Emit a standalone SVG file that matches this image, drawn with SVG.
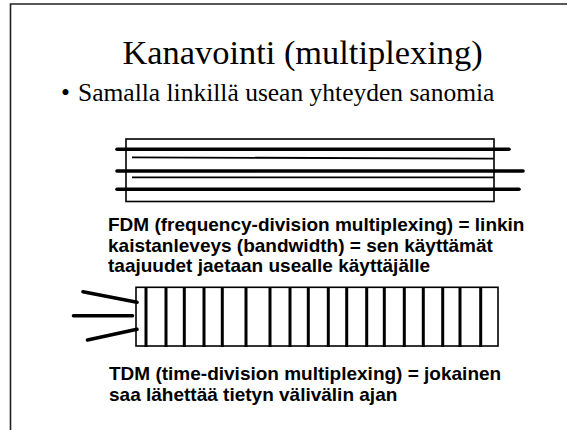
<svg xmlns="http://www.w3.org/2000/svg" width="578" height="430" viewBox="0 0 578 430">
<style>
.title{font-family:"Liberation Serif","Times New Roman",serif;font-size:34.4px;fill:#000}
.bullet{font-family:"Liberation Serif","Times New Roman",serif;font-size:25.5px;fill:#000}
.lbl{font-family:"Liberation Sans",Arial,sans-serif;font-size:19px;font-weight:bold;fill:#000}
.box{fill:#fff;stroke:#000;stroke-width:1.6}
.thick{stroke:#000;stroke-width:3.6;stroke-linecap:round;fill:none}
.thin{stroke:#000;stroke-width:1.8;fill:none}
.slot{stroke:#000;stroke-width:3;fill:none}
</style>
<rect width="578" height="430" fill="#fff"/>
<path d="M567,4 H10.5 V430" fill="none" stroke="#222" stroke-width="1.6"/>
<g id="title"><text class="title" x="122.5" y="63.5">Kanavointi (multiplexing)</text></g>
<g id="bullet"><text class="bullet" x="61" y="100.5">•</text><text class="bullet" x="78" y="100.5">Samalla linkillä usean yhteyden sanomia</text></g>
<g id="fdm">
<rect class="box" x="126" y="139" width="368" height="62.5"/>
<line class="thick" x1="117" y1="149.3" x2="509" y2="149.3"/>
<line class="thick" x1="117" y1="171" x2="523" y2="171"/>
<line class="thick" x1="117" y1="189.3" x2="519" y2="189.3"/>
<line class="thin" x1="132" y1="157.3" x2="494" y2="158.7"/>
<line class="thin" x1="132" y1="177.3" x2="494" y2="177.3"/>
</g>
<g id="fdm-text">
<text class="lbl" x="108" y="231">FDM (frequency-division multiplexing) = linkin</text>
<text class="lbl" x="108" y="251.5">kaistanleveys (bandwidth) = sen käyttämät</text>
<text class="lbl" x="108" y="272">taajuudet jaetaan usealle käyttäjälle</text>
</g>
<g id="tdm">
<rect class="box" x="136" y="287.3" width="362" height="58.7"/>
<path class="slot" d="M146,287V347M166,287V347M184.3,287V347M204,287V347M222.3,287V347M246,287V347M270,287V347M290,287V347M308.3,287V347M328.3,287V347M346.7,287V347M366.7,287V347M384.3,287V347M404.3,287V347M423.3,287V347M442.7,287V347M460,287V347M480.7,287V347"/>
</g>
<g id="connectors">
<line class="thick" x1="83" y1="291.7" x2="137" y2="302.3"/>
<line class="thick" x1="73.5" y1="315.7" x2="132.5" y2="315.7"/>
<line class="thick" x1="87.5" y1="340" x2="137" y2="329.3"/>
</g>
<g id="tdm-text">
<text class="lbl" x="109" y="380">TDM (time-division multiplexing) = jokainen</text>
<text class="lbl" x="109" y="400.5">saa lähettää tietyn välivälin ajan</text>
</g>
</svg>
